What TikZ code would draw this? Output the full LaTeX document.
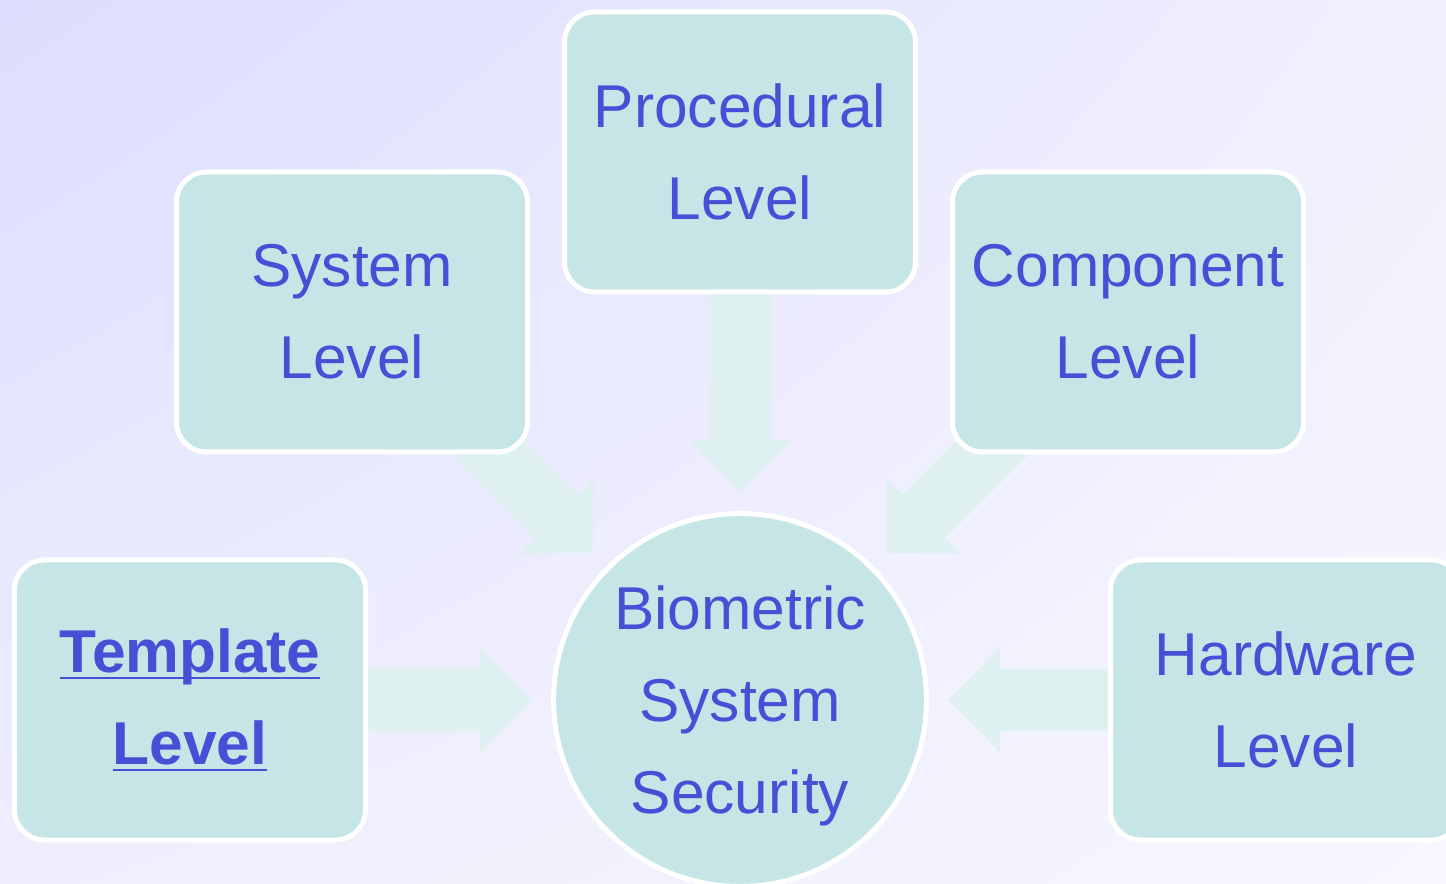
\documentclass[tikz,border=0pt]{standalone}
\usepackage{fontspec}
\setmainfont{Liberation Sans}
\usepackage{xcolor}
\usetikzlibrary{arrows.meta}
\usetikzlibrary{shadings}
\definecolor{boxfill}{RGB}{197,229,231}
\definecolor{inktext}{RGB}{70,80,214}
\definecolor{flowfill}{RGB}{223,240,240}
\definecolor{backUL}{RGB}{221,221,255}
\definecolor{backUR}{RGB}{240,240,254}
\definecolor{backLL}{RGB}{238,238,254}
\definecolor{backLR}{RGB}{247,247,255}
\newcommand{\levelfont}{\fontsize{17.2}{26.2}\selectfont}
% underline just below the baseline, through the descenders
\newcommand{\ulevel}[1]{\setbox0\hbox{#1}\rlap{\rule[-0.065cm]{\wd0}{0.026cm}}\box0}
\pgfdeclarelayer{backdrop}
\pgfdeclarelayer{flows}
\pgfsetlayers{backdrop,flows,main}

\begin{document}
\begin{tikzpicture}[
	level/.style={draw=white, line width=0.05cm, fill=boxfill, rounded corners=0.3cm,
		minimum width=3.51cm, minimum height=2.80cm, align=center, text=inktext, font=\levelfont},
	core/.style={circle, draw=white, line width=0.05cm, fill=boxfill, text depth=0pt,
		minimum size=3.71cm, align=center, text=inktext, font=\levelfont},
	flow/.style={draw=flowfill, line width=0.61cm, shorten >=0.19cm,
		-{Triangle[length=0.52cm,width=1.06cm,line width=0pt]}}
]
	\useasboundingbox (0,0) rectangle (14.46,8.83);
	\begin{pgfonlayer}{backdrop}
		\shade[upper left=backUL, upper right=backUR, lower left=backLL, lower right=backLR]
			(0,0) rectangle (14.46,8.83);
	\end{pgfonlayer}
	\clip (0,0) rectangle (14.46,8.83);

	% centre and the five levels
	\node[core] (bio) at (7.40,1.83) {Biometric\\System\\Security};
	\node[level] (proc) at (7.40,7.31) {Procedural\\Level};
	\node[level] (sys) at (3.52,5.71) {System\\Level};
	\node[level] (comp) at (11.28,5.71) {Component\\Level};
	\node[level, font=\levelfont\bfseries] (tmpl) at (1.90,1.83)
		{\ulevel{Template}\\\ulevel{Level}};
	\node[level] (hw) at (12.86,1.83) {Hardware\\Level};

	% block arrows into the centre
	\begin{pgfonlayer}{flows}
		\draw[flow] (proc.center) -- (bio);
		\draw[flow] (sys.center) -- (bio);
		\draw[flow] (comp.center) -- (bio);
		\draw[flow] (tmpl.center) -- (bio);
		\draw[flow] (hw.center) -- (bio);
	\end{pgfonlayer}
\end{tikzpicture}
\end{document}
